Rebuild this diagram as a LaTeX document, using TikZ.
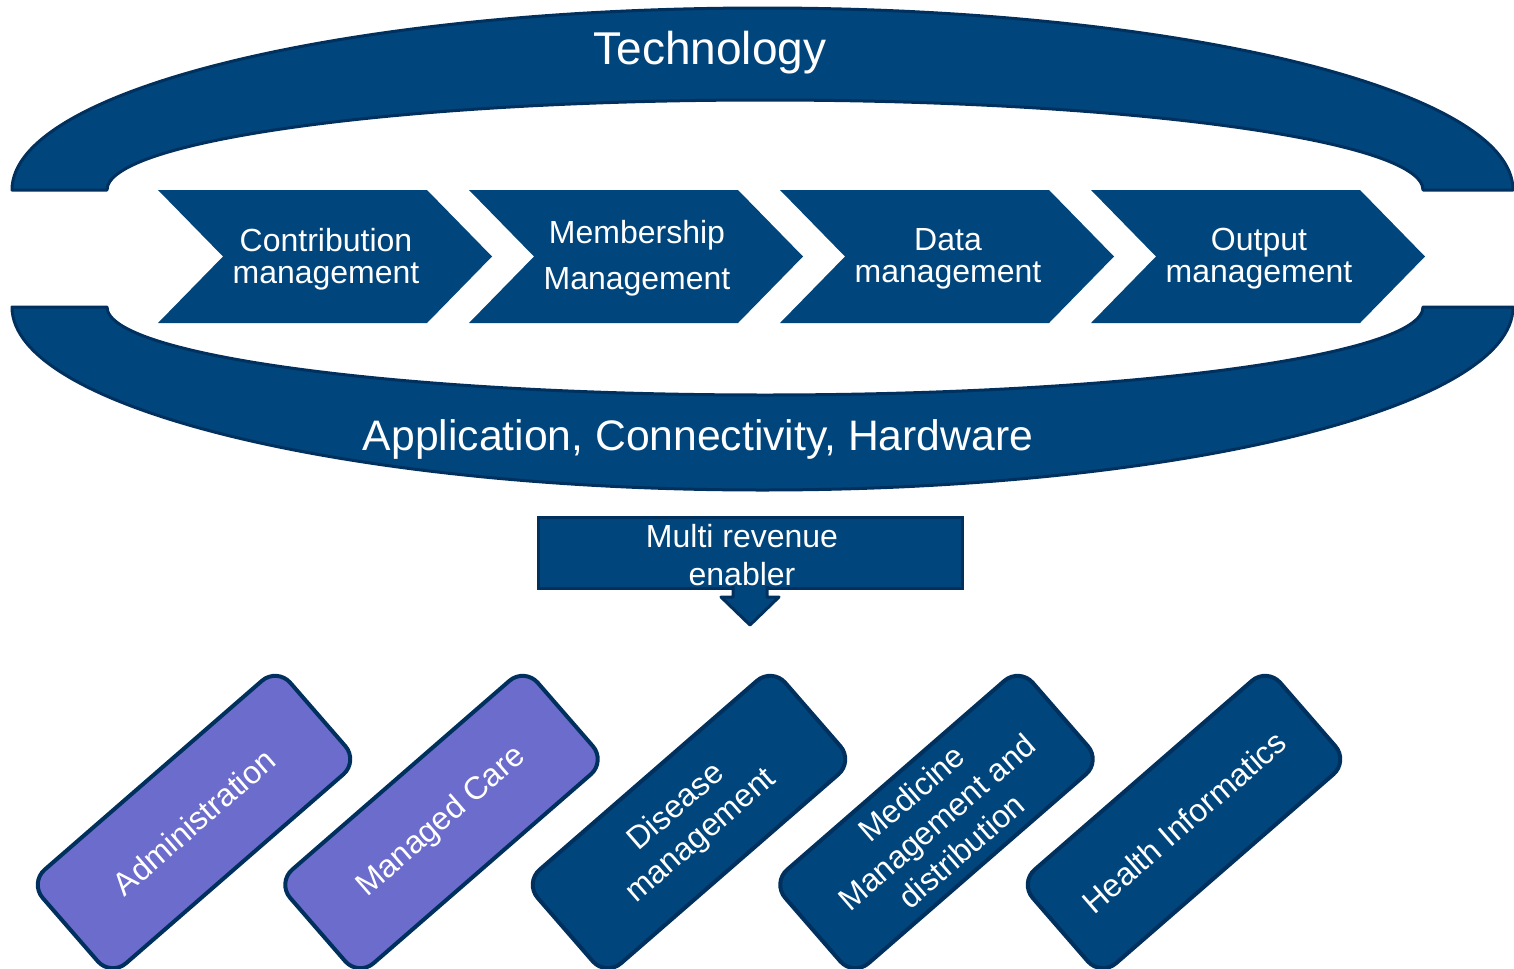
\documentclass[tikz,border=0pt]{standalone}
\usepackage{fontspec}
\setmainfont{Liberation Sans}
\definecolor{navy}{RGB}{0,69,124}
\definecolor{navyline}{RGB}{0,48,94}
\definecolor{lilac}{RGB}{108,108,204}
\begin{document}
\begin{tikzpicture}[x=0.75pt,y=0.75pt,
    band/.style={fill=navy,draw=navyline,line width=2.25pt,line join=round},
    chevron/.style={fill=navy},
    steplabel/.style={text=white,align=center,font=\fontsize{24}{24}\selectfont},
    biglabel/.style={text=white,inner sep=0pt},
    revbox/.style={fill=navy,draw=navyline,line width=2.25pt,minimum width=318pt,minimum height=53.25pt},
    revlabel/.style={text=white,align=center,inner sep=0pt,font=\fontsize{24}{28.5}\selectfont},
    areabox/.style={draw=navyline,line width=3pt,rounded corners=15pt,rotate=41,
      minimum width=246pt,minimum height=93pt,text=white,align=center,font=\fontsize{24}{28.5}\selectfont}]
  \useasboundingbox (0,0) rectangle (1514,-968);
  % technology ring
  \draw[band] (12,-190) arc[start angle=180,end angle=0,x radius=750.5,y radius=182]
    -- (1423,-190) arc[start angle=0,end angle=180,x radius=658,y radius=90] -- cycle;
  \draw[band] (12,-307) arc[start angle=180,end angle=360,x radius=750.5,y radius=183]
    -- (1423,-307) arc[start angle=0,end angle=-180,x radius=658,y radius=88] -- cycle;
  \node[biglabel,font=\fontsize{34.5}{40}\selectfont] (tech) at (710,-53) {Technology};
  \node[biglabel,font=\fontsize{32}{36}\selectfont] (infra) at (698,-439) {Application, Connectivity, Hardware};
  % process steps
  \fill[chevron] (158,-190) -- (427,-190) -- (492,-256.5) -- (427,-323) -- (158,-323) -- (223,-256.5) -- cycle;
  \fill[chevron] (469,-190) -- (738,-190) -- (803,-256.5) -- (738,-323) -- (469,-323) -- (534,-256.5) -- cycle;
  \fill[chevron] (780,-190) -- (1049,-190) -- (1114,-256.5) -- (1049,-323) -- (780,-323) -- (845,-256.5) -- cycle;
  \fill[chevron] (1091,-190) -- (1360,-190) -- (1425,-256.5) -- (1360,-323) -- (1091,-323) -- (1156,-256.5) -- cycle;
  \draw
    (326,-259) node[steplabel] (contrib) {Contribution\\management}
    (637,-258) node[steplabel,font=\fontsize{24}{34.5}\selectfont] (member) {Membership\\Management}
    (948,-259) node[steplabel] (data) {Data\\management}
    (1259,-259) node[steplabel] (output) {Output\\management};
  % revenue
  \node[revbox] (rev) at (750,-552.5) {};
  \node[revlabel] (revtext) at (742,-555) {Multi revenue\\enabler};
  \fill[navy] (733,-586) -- (733,-597) -- (721,-597) -- (750,-625) -- (779,-597) -- (767,-597) -- (767,-586) -- cycle;
  \draw[navyline,line width=2.25pt,line join=round] (733,-586) -- (733,-597) -- (721,-597) -- (750,-625) -- (779,-597) -- (767,-597) -- (767,-586);
  % business areas
  \draw
    (194,-822) node[areabox,fill=lilac] (admin) {Administration}
    (441.5,-822) node[areabox,fill=lilac] (care) {Managed Care}
    (689,-822) node[areabox,fill=navy] (disease) {Disease\\management}
    (936.5,-822) node[areabox,fill=navy] (medicine) {Medicine\\Management and\\distribution}
    (1184,-822) node[areabox,fill=navy] (informatics) {Health Informatics};
\end{tikzpicture}
\end{document}
